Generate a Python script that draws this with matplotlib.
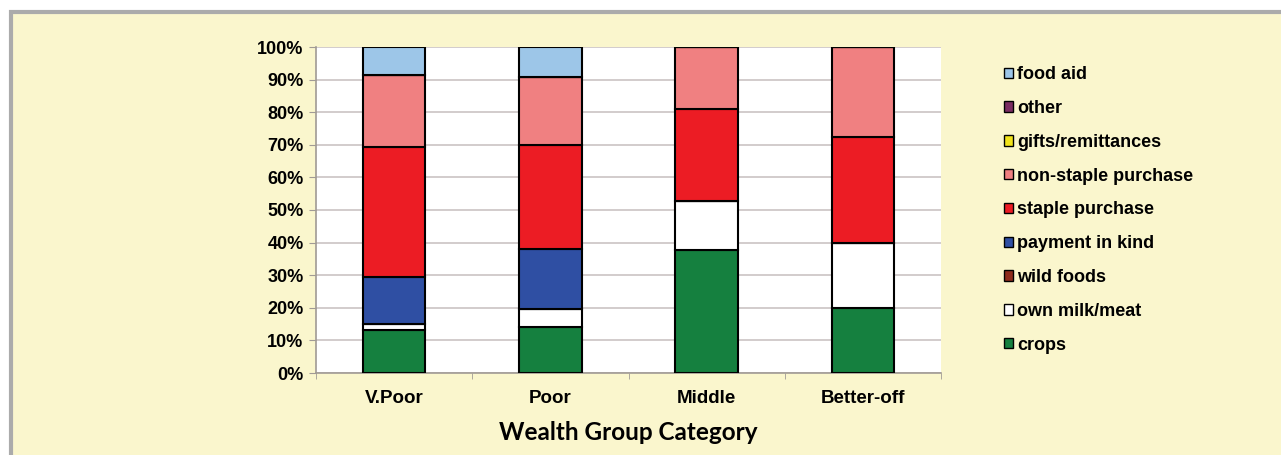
import matplotlib.pyplot as plt
import matplotlib.patches as mpatches
import numpy as np

# Data (percent of food sources per wealth group)
categories = ['V.Poor', 'Poor', 'Middle', 'Better-off']
crops = [13.2, 14.0, 37.7, 20.0]
own_milk = [1.8, 5.5, 15.1, 19.8]
wild_foods = [0, 0, 0, 0]
payment_in_kind = [14.3, 18.5, 0, 0]
staple_purchase = [39.9, 32.0, 28.2, 32.5]
non_staple_purchase = [22.2, 20.7, 19.0, 27.7]
gifts = [0, 0, 0, 0]
other = [0, 0, 0, 0]
food_aid = [8.6, 9.3, 0, 0]

series_names = ['crops', 'own milk/meat', 'wild foods', 'payment in kind', 'staple purchase',
                'non-staple purchase', 'gifts/remittances', 'other', 'food aid']
series_values = [crops, own_milk, wild_foods, payment_in_kind, staple_purchase,
                 non_staple_purchase, gifts, other, food_aid]
series_colors = ['#15803F', '#FFFFFF', '#8E2B1C', '#2F4FA3', '#EC1C24',
                 '#F08081', '#F2E41A', '#7B2C62', '#9DC6E8']

W, H = 1281, 455
fig = plt.figure(figsize=(W / 100, H / 100), dpi=100, facecolor='white')

# yellow panel with grey frame
panel = mpatches.Rectangle((10.5 / W, -0.1), 1.2, (H - 12) / H + 0.1, transform=fig.transFigure,
                           fc='#FAF6CD', ec='#ABABAB', lw=3, zorder=-10)
fig.patches.append(panel)

ax = fig.add_axes([316 / W, 1 - 373 / H, (941 - 316) / W, (373 - 47) / H])
ax.set_facecolor('white')

x = np.arange(len(categories))
bottom = np.zeros(len(categories))
handles = []
for name, vals, col in zip(series_names, series_values, series_colors):
    vals = np.array(vals, dtype=float)
    ax.bar(x, vals, 0.4, bottom=bottom, color=col, edgecolor='black', linewidth=1.5, zorder=3)
    bottom += vals
    handles.append(mpatches.Patch(facecolor=col, edgecolor='black', linewidth=1, label=name))

ax.set_xlim(-0.5, len(categories) - 0.5)
ax.set_ylim(0, 100)
ax.set_yticks(range(0, 101, 10))
ax.set_yticklabels([f'{v}%' for v in range(0, 101, 10)], fontsize=13, fontweight='bold',
                   family='Liberation Sans')
ax.set_xticks(x)
ax.set_xticklabels(categories, fontsize=13.5, fontweight='bold', family='Liberation Sans')
ax.set_xticks(np.arange(-0.5, len(categories), 1), minor=True)
ax.tick_params(axis='x', which='major', length=0, pad=12)
ax.tick_params(axis='x', which='minor', length=4, color='#A09A95', direction='out')
ax.tick_params(axis='y', length=5, color='#A09A95', direction='out', pad=4)

ax.grid(True, axis='y', color='#CBC3C3', linewidth=1.2, zorder=0)
ax.set_axisbelow(True)
for side in ['top', 'right']:
    ax.spines[side].set_visible(False)
for side in ['left', 'bottom']:
    ax.spines[side].set_color('#A09A95')
    ax.spines[side].set_linewidth(1.2)

ax.set_xlabel('Wealth Group Category', fontsize=17.5, fontweight='bold', family='Lato', labelpad=10)

leg = fig.legend(handles=handles[::-1], loc='upper left', bbox_to_anchor=(997 / W, 1 - 59 / H),
                 frameon=False, handlelength=0.5, handleheight=0.5, handletextpad=0.2,
                 labelspacing=0.93, borderaxespad=0,
                 prop={'family': 'Liberation Sans', 'weight': 'bold', 'size': 13})

fig.savefig('out.png', dpi=100, facecolor=fig.get_facecolor())
